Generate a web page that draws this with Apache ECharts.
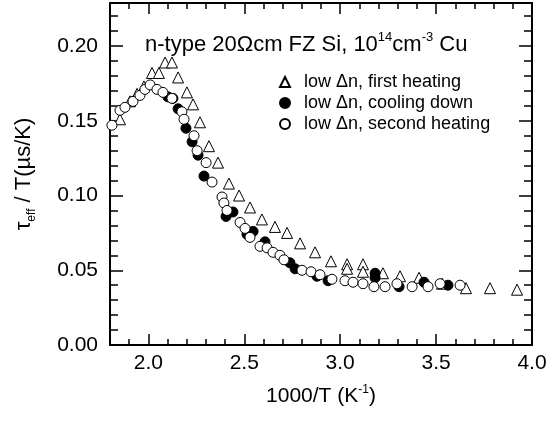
<!DOCTYPE html>
<html>
<head>
<meta charset="utf-8">
<script src="https://cdn.jsdelivr.net/npm/echarts@6/dist/echarts.min.js"></script>
<style>html,body{margin:0;padding:0;background:#fff}#c{width:551px;height:424px}</style>
</head>
<body>
<div id="c"></div>
<script>
// first heating (triangles): [1000/T, tau/T]
const firstHeating = [
  [1.852,0.151],[1.904,0.163],[1.941,0.168],[1.977,0.173],[2.019,0.182],[2.055,0.182],
  [2.087,0.189],[2.123,0.189],[2.155,0.179],[2.201,0.169],[2.233,0.161],[2.269,0.149],
  [2.316,0.133],[2.363,0.122],[2.420,0.108],[2.473,0.100],[2.530,0.092],[2.592,0.084],
  [2.660,0.079],[2.723,0.075],[2.791,0.068],[2.869,0.062],[2.952,0.056],[3.036,0.054],
  [3.036,0.051],[3.119,0.054],[3.119,0.049],[3.223,0.048],[3.312,0.046],[3.411,0.045],
  [3.531,0.041],[3.656,0.038],[3.781,0.038],[3.922,0.037]
];
// cooling down (filled circles)
const coolingDown = [
  [2.102,0.166],[2.128,0.165],[2.155,0.158],[2.196,0.145],[2.228,0.136],[2.259,0.127],
  [2.290,0.113],[2.405,0.086],[2.441,0.089],[2.514,0.074],[2.546,0.076],[2.608,0.069],
  [2.738,0.055],[2.765,0.051],[2.879,0.046],[2.937,0.043],[3.182,0.048],[3.182,0.045],
  [3.307,0.039],[3.437,0.042],[3.562,0.040]
];
// second heating (open circles)
const secondHeating = [
  [1.810,0.147],[1.852,0.157],[1.878,0.159],[1.920,0.163],[1.956,0.167],[1.982,0.171],
  [2.009,0.174],[2.045,0.171],[2.076,0.169],[2.123,0.165],[2.175,0.156],[2.186,0.151],
  [2.238,0.140],[2.254,0.130],[2.301,0.122],[2.332,0.109],[2.384,0.099],[2.394,0.095],
  [2.410,0.090],[2.478,0.082],[2.504,0.078],[2.530,0.072],[2.582,0.066],[2.619,0.065],
  [2.650,0.062],[2.686,0.060],[2.707,0.057],[2.801,0.050],[2.848,0.049],[2.895,0.047],
  [2.957,0.044],[3.025,0.043],[3.067,0.042],[3.119,0.041],[3.176,0.039],[3.234,0.039],
  [3.296,0.041],[3.375,0.039],[3.458,0.039],[3.521,0.041],[3.625,0.040]
];
const seriesNames = ['low \u0394n, first heating','low \u0394n, cooling down','low \u0394n, second heating'];
const xMin = 1.8, xMax = 4.0, yMin = 0, yMax = 0.2288, yStep = 0.05;

const FF = 'Liberation Sans, Arial, Helvetica, sans-serif';
const chart = echarts.init(document.getElementById('c'), null, {renderer:'canvas'});
function xAx(pos, labels){
  return {
    type:'value', min:xMin, max:xMax, position:pos, splitNumber:5,
    axisLine:{show:true, onZero:false, lineStyle:{color:'#000', width:2}},
    axisTick:{show:true, inside:true, length:11, lineStyle:{color:'#000', width:1.5}},
    minorTick:{show:true, splitNumber:5, length:6, lineStyle:{color:'#000', width:1.5}},
    splitLine:{show:false},
    axisLabel:{show:labels, color:'#000', fontSize:21, fontFamily:FF, margin:8,
      showMinLabel:false, formatter:v=>v.toFixed(1)},
    name: labels ? '1000/T (K{sup|-1})' : '', nameLocation:'middle', nameGap:39,
    nameTextStyle:{color:'#000', fontSize:21, fontFamily:FF, lineHeight:25,
      rich:{sup:{fontSize:12, fontFamily:FF, color:'#000', verticalAlign:'top', lineHeight:12}}}
  };
}
function yAx(pos, labels){
  return {
    type:'value', min:yMin, max:yMax, interval:yStep, position:pos,
    axisLine:{show:true, onZero:false, lineStyle:{color:'#000', width:2}},
    axisTick:{show:true, inside:true, length:13, lineStyle:{color:'#000', width:1.5}},
    minorTick:{show:true, splitNumber:5, length:8, lineStyle:{color:'#000', width:1.5}},
    splitLine:{show:false},
    axisLabel:{show:labels, color:'#000', fontSize:21, fontFamily:FF, margin:12,
      showMaxLabel:false, formatter:v=>v.toFixed(2)},
    name: labels ? '\u03c4{sub|eff} / T(\u00b5s/K)' : '', nameLocation:'middle', nameGap:72, nameRotate:90,
    nameTextStyle:{color:'#000', fontSize:22, fontFamily:FF, lineHeight:28,
      rich:{sub:{fontSize:12, fontFamily:FF, color:'#000', verticalAlign:'bottom', lineHeight:12}}}
  };
}
const option = {
  backgroundColor:'#fff',
  animation:false,
  grid:{left:110, right:19, top:3, bottom:79, containLabel:false},
  title:{
    text:'n-type 20\u03a9cm FZ Si, 10{sup|14}cm{sup|-3} Cu', left:140, top:26,
    textStyle:{color:'#000', fontSize:22, fontWeight:'normal', fontFamily:FF, lineHeight:27,
      rich:{sup:{fontSize:13, fontFamily:FF, color:'#000', verticalAlign:'top', lineHeight:13}}}
  },
  legend:{
    orient:'vertical', left:274, top:68, itemWidth:10, itemHeight:10, itemGap:3,
    data:seriesNames,
    textStyle:{color:'#000', fontSize:18, fontFamily:FF, lineHeight:18, padding:[0,0,0,9]}
  },
  xAxis:[xAx('bottom', true), xAx('top', false)],
  yAxis:[yAx('left', true), yAx('right', false)],
  series:[
    {name:seriesNames[0], type:'scatter', data:firstHeating, symbol:'triangle', symbolSize:11,
     itemStyle:{color:'#fff', borderColor:'#000', borderWidth:1, opacity:1}},
    {name:seriesNames[1], type:'scatter', data:coolingDown, symbol:'circle', symbolSize:10,
     itemStyle:{color:'#000', borderColor:'#000', borderWidth:1, opacity:1}},
    {name:seriesNames[2], type:'scatter', data:secondHeating, symbol:'circle', symbolSize:10,
     itemStyle:{color:'#fff', borderColor:'#000', borderWidth:1, opacity:1}}
  ]
};
chart.setOption(option);
</script>
</body>
</html>
